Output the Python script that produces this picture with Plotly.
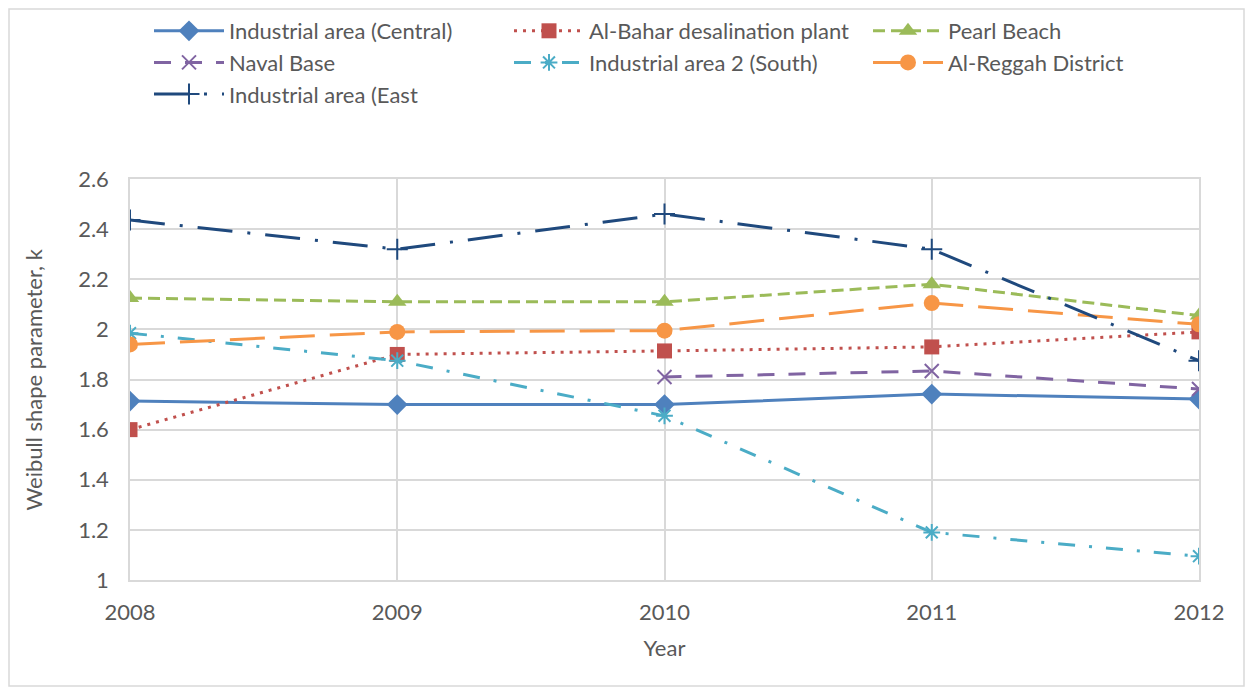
import plotly.graph_objects as go

years = [2008, 2009, 2010, 2011, 2012]
central = [1.714, 1.70, 1.70, 1.742, 1.722]
al_bahar = [1.60, 1.90, 1.914, 1.93, 1.99]
pearl = [2.125, 2.11, 2.11, 2.18, 2.055]
naval = [None, None, 1.81, 1.834, 1.762]
south = [1.985, 1.875, 1.655, 1.19, 1.095]
reggah = [1.94, 1.99, 1.995, 2.105, 2.02]
east = [2.436, 2.32, 2.46, 2.32, 1.875]

names = ["Industrial area (Central)", "Al-Bahar desalination plant", "Pearl Beach",
         "Naval Base", "Industrial area 2 (South)", "Al-Reggah District",
         "Industrial area (East"]
series = [central, al_bahar, pearl, naval, south, reggah, east]
colors = ["#4F81BD", "#C0504D", "#9BBB59", "#8064A2", "#4BACC6", "#F79646", "#1F497D"]
dashes = ["solid", "3px,6px", "12px,6px", "17px,14px", "17px,14px,3px,14px", "35px,15px", "35px,15px,3px,15px"]
symbols = ["diamond", "square", "triangle-up", "x-thin-open", "asterisk-open", "circle", "cross-thin-open"]
sizes = [16, 15, 16, 14, 14, 16, 15]
legend_cols = ["legend", "legend2", "legend3", "legend", "legend2", "legend3", "legend"]
y_title = "Weibull shape parameter, k"
x_title = "Year"

fig = go.Figure()
for nm, ys, c, d, s, sz, lg in zip(names, series, colors, dashes, symbols, sizes, legend_cols):
    open_m = s.endswith("open")
    fig.add_trace(go.Scatter(
        x=years, y=ys, name=nm, mode="lines+markers", connectgaps=False, legend=lg,
        line=dict(color=c, width=3, dash=d),
        marker=dict(symbol=s, size=sz, color=c, line=dict(color=c, width=2 if open_m else 0)),
    ))

font_color = "#595959"
grid = "#D9D9D9"
W, H = 1237, 679
L, R, T, B = 122, 46, 171, 107
pw, ph = W - L - R, H - T - B
FS = 22


def leg(xpx):
    return dict(orientation="v", xref="container", yref="container",
                x=xpx / W, y=1 - 2 / H, xanchor="left", yanchor="top",
                itemwidth=70, font=dict(size=FS, color=font_color),
                tracegroupgap=0, bgcolor="rgba(0,0,0,0)")


fig.update_layout(
    width=W, height=H,
    margin=dict(l=L, r=R, t=T, b=B, autoexpand=False),
    paper_bgcolor="white", plot_bgcolor="white",
    font=dict(family="Lato", size=FS, color=font_color),
    legend=leg(141), legend2=leg(501), legend3=leg(860),
    xaxis=dict(range=[2008, 2012], tickvals=years, ticktext=[str(y) for y in years],
               showgrid=True, gridcolor=grid, gridwidth=1.5, zeroline=False,
               showline=True, linecolor=grid, linewidth=1.5, mirror=True,
               tickfont=dict(size=FS, color=font_color), ticklabelstandoff=12,
               title=dict(text=x_title, font=dict(size=FS, color=font_color), standoff=16)),
    yaxis=dict(range=[1, 2.6], dtick=0.2, tick0=1,
               showgrid=True, gridcolor=grid, gridwidth=1.5, zeroline=False,
               showline=True, linecolor=grid, linewidth=1.5, mirror=True,
               tickfont=dict(size=FS, color=font_color), ticklabelstandoff=15),
    annotations=[dict(text=y_title, xref="paper", yref="paper",
                      x=(25 - L) / pw, y=0.5, xanchor="center", yanchor="middle",
                      textangle=-90, showarrow=False,
                      font=dict(size=FS, color=font_color))],
    shapes=[dict(type="rect", xref="paper", yref="paper",
                 x0=(1 - L) / pw, x1=(W - 1 - L) / pw,
                 y0=-(B - 1) / ph, y1=1 + (T - 1) / ph,
                 line=dict(color="#D9D9D9", width=1.5), fillcolor="rgba(0,0,0,0)", layer="below")],
)

fig.write_html("out.html")
